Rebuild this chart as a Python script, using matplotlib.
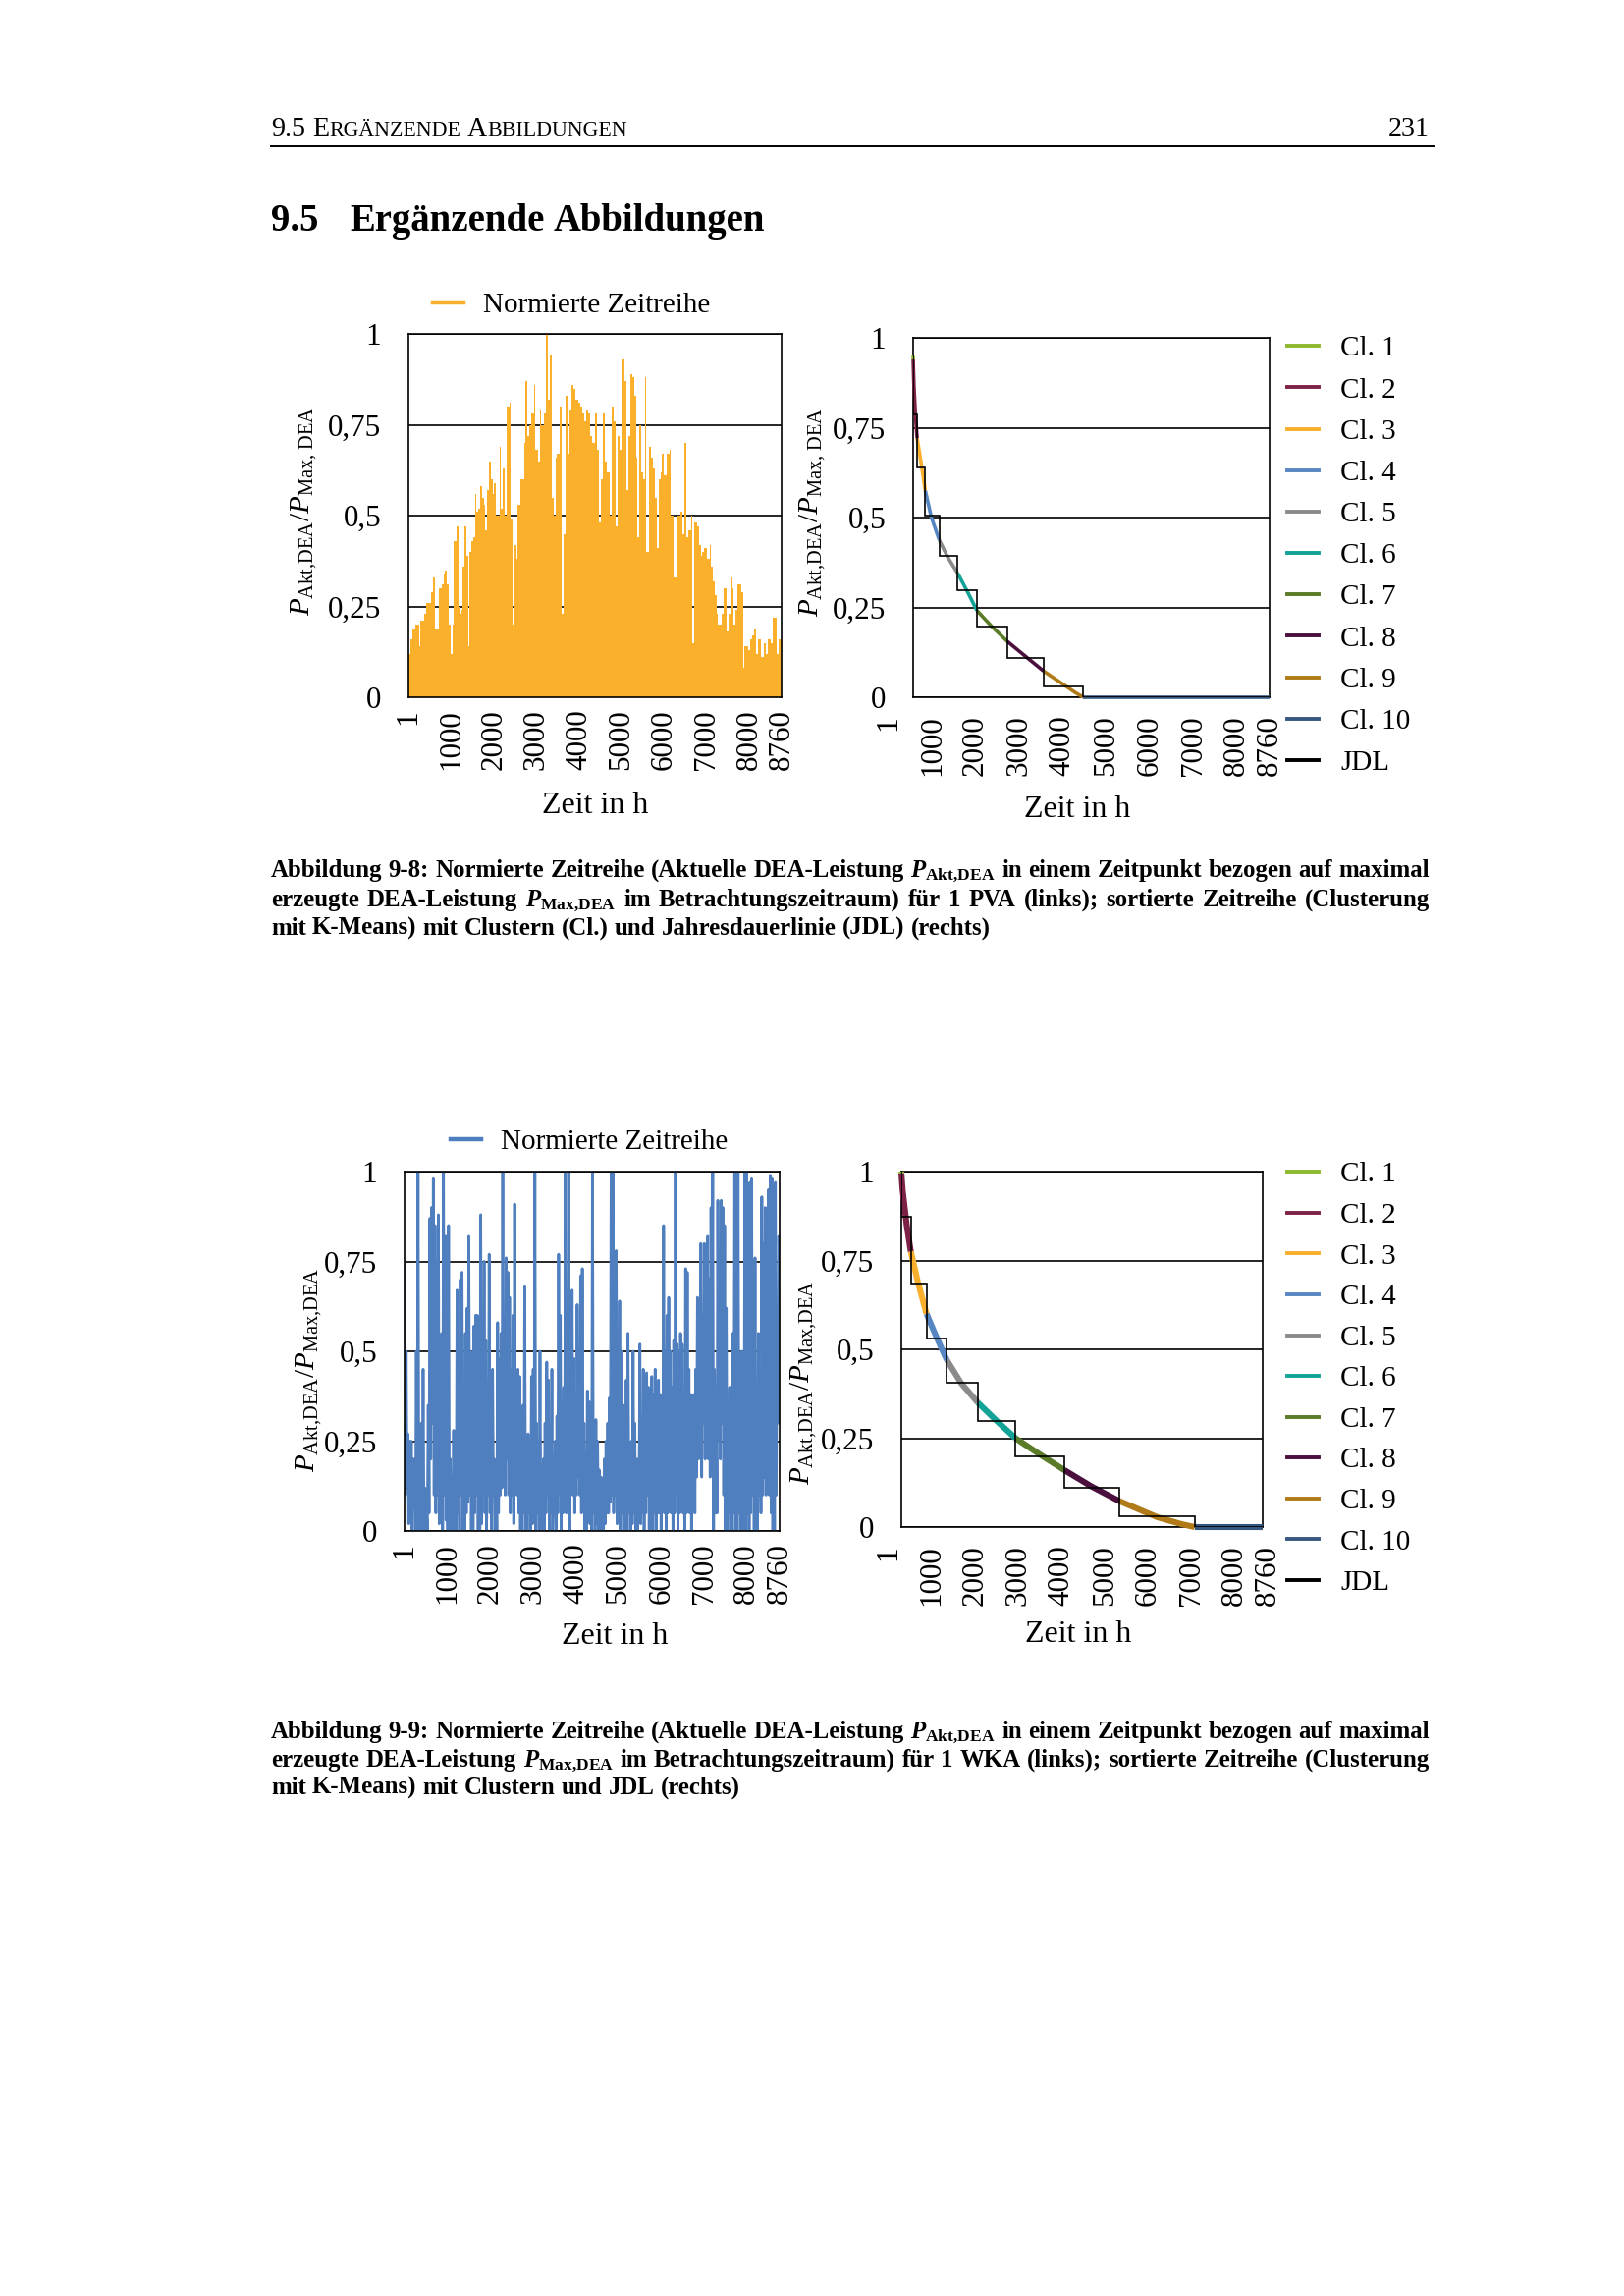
import numpy as np
import matplotlib
matplotlib.use("Agg")
import matplotlib.pyplot as plt
from matplotlib.lines import Line2D

plt.rcParams['font.family'] = ['Liberation Serif', 'DejaVu Serif']
plt.rcParams['mathtext.fontset'] = 'custom'
plt.rcParams['mathtext.rm'] = 'Liberation Serif'
plt.rcParams['mathtext.it'] = 'Liberation Serif:italic'
plt.rcParams['mathtext.bf'] = 'Liberation Serif:bold'
try:
    plt.rcParams['mathtext.bfit'] = 'Liberation Serif:italic:bold'
    HAS_BFIT = True
except KeyError:
    HAS_BFIT = False

# ---------------------------------------------------------------- data
x_ticks = [1, 1000, 2000, 3000, 4000, 5000, 6000, 7000, 8000, 8760]
y_ticks = [0, 0.25, 0.5, 0.75, 1]
y_tick_labels = ['0', '0,25', '0,5', '0,75', '1']

# PV: normalised series, read as (hour, peak value) of the daily envelope
pv_peaks = [
    (1, 0.12), (41, 0.16), (82, 0.19), (164, 0.20), (205, 0.20), (247, 0.14), (288, 0.21), (329, 0.21),
    (370, 0.23), (411, 0.26), (493, 0.26), (534, 0.29), (575, 0.33), (616, 0.19), (657, 0.19), (723, 0.30),
    (781, 0.31), (822, 0.34), (863, 0.35), (904, 0.31), (945, 0.20), (986, 0.12), (1027, 0.20), (1068, 0.43),
    (1134, 0.47), (1167, 0.25), (1208, 0.23), (1257, 0.24), (1274, 0.36), (1315, 0.47), (1356, 0.39), (1397, 0.14),
    (1438, 0.40), (1479, 0.43), (1520, 0.44), (1561, 0.56), (1602, 0.51), (1643, 0.52), (1684, 0.58), (1725, 0.55),
    (1767, 0.53), (1808, 0.46), (1849, 0.57), (1890, 0.65), (1931, 0.60), (1972, 0.56), (2013, 0.59), (2054, 0.50),
    (2136, 0.69), (2177, 0.52), (2219, 0.63), (2260, 0.50), (2301, 0.80), (2366, 0.81), (2399, 0.49), (2440, 0.20),
    (2481, 0.42), (2531, 0.38), (2564, 0.53), (2629, 0.60), (2671, 0.60), (2712, 0.70), (2753, 0.87), (2794, 0.72),
    (2835, 0.75), (2876, 0.78), (2941, 0.86), (2974, 0.68), (3040, 0.65), (3081, 0.79), (3122, 0.75), (3180, 0.78),
    (3229, 1.00), (3270, 0.82), (3328, 0.94), (3369, 0.55), (3410, 0.50), (3451, 0.66), (3492, 0.67), (3550, 0.80),
    (3599, 0.23), (3640, 0.45), (3681, 0.83), (3739, 0.67), (3780, 0.79), (3829, 0.86), (3878, 0.85), (3928, 0.82),
    (3985, 0.81), (4026, 0.80), (4076, 0.78), (4125, 0.76), (4174, 0.79), (4223, 0.78), (4273, 0.72), (4314, 0.70),
    (4371, 0.78), (4421, 0.68), (4478, 0.48), (4519, 0.60), (4568, 0.78), (4618, 0.65), (4667, 0.62), (4725, 0.50),
    (4766, 0.80), (4807, 0.76), (4864, 0.47), (4914, 0.72), (4955, 0.68), (5012, 0.93), (5062, 0.87), (5111, 0.57),
    (5160, 0.72), (5218, 0.89), (5259, 0.88), (5300, 0.83), (5341, 0.66), (5382, 0.44), (5423, 0.75), (5464, 0.62),
    (5505, 0.60), (5546, 0.88), (5587, 0.40), (5637, 0.69), (5686, 0.66), (5735, 0.63), (5793, 0.55), (5834, 0.41),
    (5875, 0.60), (5916, 0.62), (5957, 0.67), (5998, 0.61), (6064, 0.67), (6121, 0.68), (6163, 0.50), (6228, 0.33),
    (6286, 0.35), (6327, 0.50), (6393, 0.51), (6434, 0.45), (6475, 0.70), (6532, 0.44), (6573, 0.46), (6639, 0.50),
    (6672, 0.15), (6713, 0.48), (6779, 0.47), (6820, 0.42), (6861, 0.39), (6902, 0.40), (6943, 0.41), (7001, 0.38),
    (7066, 0.42), (7107, 0.36), (7149, 0.32), (7190, 0.28), (7231, 0.23), (7272, 0.20), (7313, 0.20), (7362, 0.23),
    (7411, 0.30), (7461, 0.18), (7518, 0.23), (7559, 0.33), (7600, 0.30), (7641, 0.20), (7683, 0.24), (7724, 0.31),
    (7765, 0.31), (7806, 0.29), (7855, 0.08), (7888, 0.14), (7929, 0.14), (7970, 0.13), (8011, 0.16), (8069, 0.17),
    (8118, 0.19), (8167, 0.12), (8216, 0.16), (8266, 0.11), (8299, 0.11), (8348, 0.15), (8397, 0.12), (8446, 0.16),
    (8504, 0.15), (8545, 0.22), (8586, 0.22), (8644, 0.12), (8693, 0.16), (8743, 0.16),
]

# WKA: normalised series, alternating local maxima / minima read across the year
wind_peaks = [
    0.75, 0.50, 0.27, 0.25, 0.25, 0.20, 0.20, 0.50, 1.00, 0.10,
    0.30, 0.45, 0.12, 0.05, 0.35, 0.87, 0.90, 0.98, 0.85, 0.75,
    0.88, 0.50, 0.55, 1.00, 0.82, 0.82, 0.85, 0.20, 0.10, 0.28,
    0.20, 0.67, 0.30, 0.70, 0.72, 0.25, 0.55, 0.62, 0.82, 0.50,
    0.45, 0.57, 0.60, 0.60, 0.45, 0.88, 0.50, 0.75, 0.53, 0.40,
    0.77, 0.30, 0.45, 0.20, 0.15, 0.58, 0.48, 0.55, 1.00, 0.60,
    0.76, 0.72, 0.65, 0.45, 0.60, 0.91, 0.40, 0.45, 0.43, 0.30,
    0.35, 0.68, 0.20, 0.27, 0.25, 0.43, 0.45, 1.00, 0.30, 0.25,
    0.50, 0.15, 0.20, 0.30, 0.47, 0.42, 0.20, 0.45, 0.15, 0.25,
    0.32, 0.77, 0.60, 0.35, 0.40, 1.00, 0.50, 1.00, 0.55, 0.67,
    0.48, 0.30, 0.63, 0.37, 0.71, 0.73, 0.30, 0.20, 0.39, 0.36,
    0.33, 1.00, 0.30, 0.31, 0.25, 0.17, 0.15, 0.10, 0.20, 0.25,
    0.30, 0.37, 1.00, 1.00, 0.40, 0.78, 0.48, 0.64, 0.50, 0.30,
    0.35, 0.42, 0.55, 0.22, 0.25, 0.50, 0.30, 0.20, 0.20, 0.52,
    0.30, 0.45, 0.43, 0.44, 0.40, 0.25, 0.43, 0.38, 0.45, 0.40,
    0.42, 0.38, 0.30, 0.85, 0.50, 0.60, 0.65, 0.50, 0.40, 0.53,
    1.00, 0.52, 0.50, 0.55, 0.52, 0.30, 0.73, 0.72, 0.45, 0.38,
    0.30, 0.38, 0.45, 0.65, 0.55, 0.80, 0.60, 0.80, 0.60, 0.82,
    0.70, 0.90, 1.00, 0.45, 0.35, 0.92, 0.55, 0.92, 0.90, 0.85,
    0.62, 0.30, 0.40, 0.40, 0.55, 1.00, 0.50, 1.00, 0.40, 0.50,
    0.30, 1.00, 1.00, 0.50, 0.97, 0.98, 0.60, 0.76, 0.40, 0.55,
    0.45, 0.93, 0.80, 0.90, 0.70, 0.95, 0.99, 0.98, 0.50, 0.97,
    0.60, 0.82,
]
wind_lows = [
    0.10, 0.12, 0.02, 0.05, 0.00, 0.08, 0.00, 0.05, 0.00, 0.00,
    0.02, 0.00, 0.00, 0.00, 0.05, 0.20, 0.30, 0.10, 0.05, 0.10,
    0.02, 0.10, 0.00, 0.10, 0.03, 0.00, 0.00, 0.00, 0.02, 0.00,
    0.00, 0.05, 0.00, 0.10, 0.00, 0.00, 0.05, 0.08, 0.10, 0.00,
    0.00, 0.05, 0.10, 0.00, 0.00, 0.02, 0.10, 0.05, 0.00, 0.10,
    0.05, 0.00, 0.10, 0.00, 0.00, 0.05, 0.10, 0.12, 0.15, 0.10,
    0.20, 0.10, 0.05, 0.10, 0.02, 0.15, 0.10, 0.05, 0.00, 0.00,
    0.05, 0.00, 0.00, 0.05, 0.00, 0.02, 0.05, 0.00, 0.05, 0.00,
    0.00, 0.00, 0.00, 0.05, 0.10, 0.00, 0.05, 0.00, 0.05, 0.00,
    0.05, 0.10, 0.00, 0.05, 0.10, 0.05, 0.10, 0.00, 0.15, 0.10,
    0.05, 0.10, 0.15, 0.10, 0.05, 0.10, 0.00, 0.00, 0.05, 0.02,
    0.00, 0.05, 0.00, 0.02, 0.00, 0.00, 0.00, 0.00, 0.02, 0.05,
    0.05, 0.08, 0.10, 0.05, 0.10, 0.02, 0.05, 0.00, 0.05, 0.00,
    0.05, 0.00, 0.05, 0.00, 0.02, 0.05, 0.00, 0.00, 0.05, 0.02,
    0.05, 0.00, 0.05, 0.10, 0.00, 0.05, 0.00, 0.05, 0.00, 0.05,
    0.05, 0.00, 0.10, 0.05, 0.00, 0.05, 0.10, 0.05, 0.00, 0.05,
    0.10, 0.00, 0.05, 0.10, 0.05, 0.00, 0.05, 0.10, 0.05, 0.00,
    0.10, 0.05, 0.15, 0.20, 0.25, 0.15, 0.30, 0.20, 0.25, 0.20,
    0.15, 0.30, 0.00, 0.05, 0.05, 0.25, 0.20, 0.30, 0.10, 0.00,
    0.00, 0.05, 0.00, 0.00, 0.05, 0.00, 0.00, 0.05, 0.00, 0.05,
    0.00, 0.00, 0.05, 0.00, 0.05, 0.10, 0.00, 0.05, 0.00, 0.10,
    0.05, 0.10, 0.15, 0.10, 0.20, 0.10, 0.05, 0.00, 0.00, 0.10,
    0.30, 0.70,
]

cluster_labels = ['Cl. 1', 'Cl. 2', 'Cl. 3', 'Cl. 4', 'Cl. 5',
                  'Cl. 6', 'Cl. 7', 'Cl. 8', 'Cl. 9', 'Cl. 10']

# PV sorted series (duration curve) and K-means cluster steps
pv_sorted_hours = [1, 2, 20, 60, 100, 200, 300, 450, 645, 850, 1096, 1330, 1571,
                   1950, 2320, 2750, 3205, 3700, 4000, 4187, 8760]
pv_sorted_values = [0.95, 0.94, 0.87, 0.78, 0.72, 0.65, 0.575, 0.50, 0.437, 0.39, 0.345,
                    0.295, 0.241, 0.195, 0.155, 0.115, 0.073, 0.035, 0.012, 0.0, 0.0]
pv_cluster_edges = [1, 2, 100, 300, 645, 1096, 1571, 2320, 3205, 4187, 8760]
pv_cluster_levels = [0.95, 0.787, 0.639, 0.505, 0.393, 0.298, 0.196, 0.109, 0.030, 0.0]

# WKA sorted series (duration curve) and K-means cluster steps
wka_sorted_hours = [1, 2, 30, 60, 130, 231, 400, 611, 850, 1103, 1450, 1856, 2300,
                    2768, 3350, 3957, 4600, 5288, 6200, 6800, 7112, 8760]
wka_sorted_values = [1.0, 0.995, 0.95, 0.92, 0.85, 0.775, 0.69, 0.60, 0.535, 0.47, 0.405,
                     0.35, 0.30, 0.25, 0.205, 0.16, 0.115, 0.073, 0.028, 0.008, 0.0, 0.0]
wka_cluster_edges = [1, 2, 231, 611, 1103, 1856, 2768, 3957, 5288, 7112, 8760]
wka_cluster_levels = [1.0, 0.872, 0.686, 0.531, 0.407, 0.299, 0.200, 0.110, 0.030, 0.0]

# ---------------------------------------------------------------- styling
pv_color = '#FAB02B'
wind_color = '#4F7FBF'
cluster_colors = ['#8DB92E', '#7E2146', '#F9AF2C', '#5787C3', '#8A8A8A',
                  '#12A396', '#5A7B28', '#4B0F3E', '#B07A18', '#36577F']

W, H, DPI = 1654, 2338, 200
fig = plt.figure(figsize=(W / DPI, H / DPI), dpi=DPI)
fig.patch.set_facecolor('white')
renderer = fig.canvas.get_renderer()


def rect(x0, y0, x1, y1):
    return [x0 / W, 1 - y1 / H, (x1 - x0) / W, (y1 - y0) / H]


LW = 0.6
TICK_FS = 11.2
LEG_FS = 10.5
XLAB_FS = 11.5
YLAB_FS = 10.5


def style(ax, xlabels=True, xpad=4.5):
    ax.set_xlim(1, 8760)
    ax.set_ylim(0, 1)
    ax.set_yticks(y_ticks)
    ax.set_yticklabels(y_tick_labels)
    ax.set_xticks(x_ticks)
    if xlabels:
        ax.set_xticklabels([str(t) for t in x_ticks], rotation=90)
    else:
        ax.set_xticklabels([])
    ax.tick_params(axis='both', length=0, labelsize=TICK_FS)
    ax.tick_params(axis='y', pad=10)
    ax.tick_params(axis='x', pad=xpad)
    ax.yaxis.grid(True, color='black', lw=LW)
    ax.xaxis.grid(False)
    ax.set_axisbelow(True)
    for s in ax.spines.values():
        s.set_linewidth(LW)
        s.set_color('black')


def label_axis(r):
    lab = fig.add_axes(r)
    lab.set_xlim(1, 8760)
    lab.set_ylim(0, 1)
    lab.set_xticks(x_ticks)
    lab.set_xticklabels([str(t) for t in x_ticks], rotation=90)
    lab.set_yticks([])
    lab.tick_params(axis='x', length=0, labelsize=TICK_FS, pad=6.5)
    lab.patch.set_visible(False)
    for s in lab.spines.values():
        s.set_visible(False)
    return lab


def single_legend(ax, color, x_px, y_px):
    ax.legend([Line2D([], [], color=color, lw=1.6)], ['Normierte Zeitreihe'],
              loc='center left', bbox_to_anchor=(x_px / W, 1 - y_px / H),
              bbox_transform=fig.transFigure, frameon=False, fontsize=LEG_FS,
              handlelength=1.05, handletextpad=0.7, borderpad=0, borderaxespad=0)


def cluster_legend(ax, x_px, y_px, spacing):
    handles = [Line2D([], [], color=c, lw=1.4) for c in cluster_colors]
    handles.append(Line2D([], [], color='black', lw=1.4))
    ax.legend(handles, cluster_labels + ['JDL'], loc='upper left',
              bbox_to_anchor=(x_px / W, 1 - y_px / H), bbox_transform=fig.transFigure,
              frameon=False, fontsize=LEG_FS, handlelength=1.1, handletextpad=0.75,
              labelspacing=spacing, borderpad=0, borderaxespad=0)


def draw_sorted(ax, hours, values, edges, levels, lw):
    h = np.asarray(hours, float)
    v = np.asarray(values, float)
    for i, c in enumerate(cluster_colors):
        m = (h >= edges[i]) & (h <= edges[i + 1])
        ax.plot(h[m], v[m], color=c, lw=lw, solid_capstyle='butt',
                zorder=2.6, clip_on=False)
    ax.stairs(levels, edges, baseline=None, color='black', lw=LW, zorder=2.7)


ylab_a = r'$P_{\mathrm{Akt{,}DEA}}/P_{\mathrm{Max{,}\ DEA}}$'
ylab_b = r'$P_{\mathrm{Akt{,}DEA}}/P_{\mathrm{Max{,}DEA}}$'

# ---------------------------------------------------------------- top left (PV)
ax1 = fig.add_axes(rect(416, 340, 796, 710))
style(ax1)
pv_h = [p[0] for p in pv_peaks]
pv_v = [p[1] for p in pv_peaks]
ax1.stairs(pv_v, pv_h + [8760], fill=True, color=pv_color, lw=0, zorder=2)
ax1.set_ylabel(ylab_a, fontsize=YLAB_FS)
ax1.yaxis.set_label_coords(-0.24, 0.513)
ax1.set_xlabel('Zeit in h', fontsize=XLAB_FS)
ax1.xaxis.set_label_coords(0.5, -0.259)
single_legend(ax1, pv_color, 441, 311)

# ---------------------------------------------------------------- top right (PV sorted)
label_axis(rect(905, 344, 1293, 710))
ax2 = fig.add_axes(rect(930, 344, 1293, 710))
style(ax2, xlabels=False)
draw_sorted(ax2, pv_sorted_hours, pv_sorted_values, pv_cluster_edges, pv_cluster_levels, 1.3)
ax2.set_ylabel(ylab_a, fontsize=YLAB_FS)
ax2.yaxis.set_label_coords(-0.24, 0.514)
ax2.set_xlabel('Zeit in h', fontsize=XLAB_FS)
ax2.xaxis.set_label_coords(0.46, -0.273)
cluster_legend(ax2, 1311, 342, 0.54)

# ---------------------------------------------------------------- bottom left (WKA)
ax3 = fig.add_axes(rect(412, 1193, 794, 1559))
style(ax3)
wind_values = []
for p, l in zip(wind_peaks, wind_lows):
    wind_values.extend([p, l])
wind_hours = np.linspace(1, 8760, len(wind_values))
ax3.plot(wind_hours, wind_values, color=wind_color, lw=1.0, zorder=2)
ax3.set_ylabel(ylab_b, fontsize=YLAB_FS)
ax3.yaxis.set_label_coords(-0.215, 0.448)
ax3.set_xlabel('Zeit in h', fontsize=XLAB_FS)
ax3.xaxis.set_label_coords(0.56, -0.254)
single_legend(ax3, wind_color, 459, 1163)

# ---------------------------------------------------------------- bottom right (WKA sorted)
label_axis(rect(905, 1193, 1291, 1555))
ax4 = fig.add_axes(rect(918, 1193, 1286, 1555))
style(ax4, xlabels=False)
draw_sorted(ax4, wka_sorted_hours, wka_sorted_values, wka_cluster_edges, wka_cluster_levels, 2.2)
ax4.set_ylabel(ylab_b, fontsize=YLAB_FS)
ax4.yaxis.set_label_coords(-0.228, 0.406)
ax4.set_xlabel('Zeit in h', fontsize=XLAB_FS)
ax4.xaxis.set_label_coords(0.49, -0.262)
cluster_legend(ax4, 1311, 1183, 0.52)

# ---------------------------------------------------------------- page text


def width_px(t):
    return t.get_window_extent(renderer=renderer).width


def run_layout(runs, fs, weight):
    items = []
    for s, f in runs:
        if s == ' ':
            items.append((None, 0.25 * fs * f * DPI / 72))
        else:
            t = fig.text(0, 0, s, fontsize=fs * f, fontweight=weight,
                         va='baseline', ha='left')
            items.append((t, width_px(t)))
    return items


def draw_runs(runs, x0, yb, target_w, weight='normal', base=10.0):
    items = run_layout(runs, base, weight)
    total = sum(w for _, w in items)
    for t, _ in items:
        if t is not None:
            t.remove()
    fs = base * target_w / total
    items = run_layout(runs, fs, weight)
    x = x0
    for t, w in items:
        if t is not None:
            t.set_position((x / W, 1 - yb / H))
        x += w
    return fs


# running header in small caps
SC = 0.78
hdr_fs = draw_runs([('9.5', 1), (' ', 1), ('E', 1), ('RGÄNZENDE', SC), (' ', 1),
                    ('A', 1), ('BBILDUNGEN', SC)], 276, 138, 362)
fig.text(1456 / W, 1 - 138 / H, '231', fontsize=hdr_fs, ha='right', va='baseline')
fig.add_artist(Line2D([276 / W, 1460 / W], [1 - 149 / H, 1 - 149 / H],
                      transform=fig.transFigure, color='black', lw=0.7))

# section heading
head_fs = draw_runs([('Ergänzende', 1), (' ', 1), ('Abbildungen', 1)], 356, 235, 423,
                    weight='bold', base=16.0)
fig.text(276 / W, 1 - 235 / H, '9.5', fontsize=head_fs, fontweight='bold',
         va='baseline', ha='left')

# captions
if HAS_BFIT:
    P_AKT = r'$\mathbfit{P}_{\mathbf{Akt{,}DEA}}$'
    P_MAX = r'$\mathbfit{P}_{\mathbf{Max{,}DEA}}$'
else:
    P_AKT = r'$\mathit{P}_{\mathbf{Akt{,}DEA}}$'
    P_MAX = r'$\mathit{P}_{\mathbf{Max{,}DEA}}$'

cap1 = [
    f'Abbildung 9-8: Normierte Zeitreihe (Aktuelle DEA-Leistung {P_AKT} in einem Zeitpunkt bezogen auf maximal',
    f'erzeugte DEA-Leistung {P_MAX} im Betrachtungszeitraum) für 1 PVA (links); sortierte Zeitreihe (Clusterung',
    'mit K-Means) mit Clustern (Cl.) und Jahresdauerlinie (JDL) (rechts)',
]
cap2 = [
    f'Abbildung 9-9: Normierte Zeitreihe (Aktuelle DEA-Leistung {P_AKT} in einem Zeitpunkt bezogen auf maximal',
    f'erzeugte DEA-Leistung {P_MAX} im Betrachtungszeitraum) für 1 WKA (links); sortierte Zeitreihe (Clusterung',
    'mit K-Means) mit Clustern und JDL (rechts)',
]


def natural_width(line, fs):
    words = line.split(' ')
    ts = [fig.text(0, 0, w, fontsize=fs, fontweight='bold') for w in words]
    tot = sum(width_px(t) for t in ts) + 0.25 * fs * DPI / 72 * (len(words) - 1)
    for t in ts:
        t.remove()
    return tot


base = 10.0
cap_fs = base * 735 / natural_width(cap1[2], base)
widest = max(natural_width(l, cap_fs) for l in cap1[:2] + cap2[:2])
if widest > 1175:
    cap_fs *= 1175 / widest


def draw_line(line, x0, yb, fs, target_w=None):
    words = line.split(' ')
    ts = [fig.text(0, 1 - yb / H, w, fontsize=fs, fontweight='bold',
                   va='baseline', ha='left') for w in words]
    ws = [width_px(t) for t in ts]
    gap = 0.25 * fs * DPI / 72
    if target_w is not None and len(words) > 1:
        gap = (target_w - sum(ws)) / (len(words) - 1)
    x = x0
    for t, w in zip(ts, ws):
        t.set_x(x / W)
        x += w + gap


for i, (line, yb) in enumerate(zip(cap1, [893, 923, 952])):
    draw_line(line, 276, yb, cap_fs, 1180 if i < 2 else None)
for i, (line, yb) in enumerate(zip(cap2, [1770, 1799, 1827])):
    draw_line(line, 276, yb, cap_fs, 1180 if i < 2 else None)

fig.savefig('out.png', dpi=DPI, facecolor='white')
